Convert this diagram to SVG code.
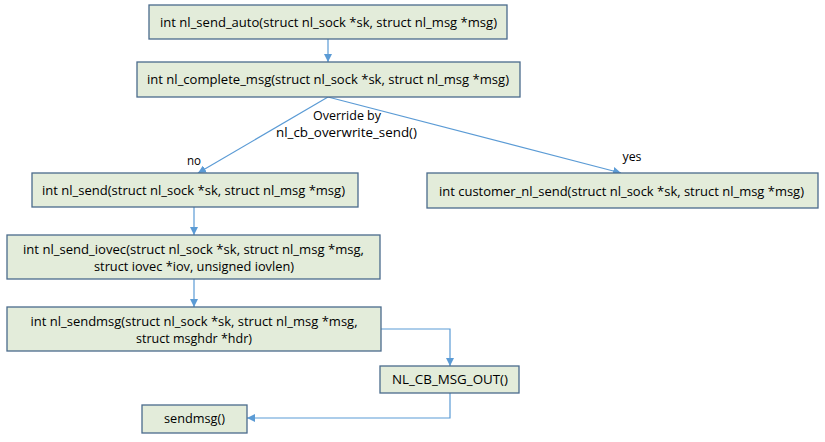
<svg xmlns="http://www.w3.org/2000/svg" width="825" height="442" viewBox="0 0 825 442">
  <style>
    .box { fill: #E3ECDA; stroke: #4A6B8C; stroke-width: 1.3; }
    .t { font-family: "Open Sans", "Liberation Sans", sans-serif; font-size: 13px; fill: #000; text-anchor: middle; }
    .c { fill: none; stroke: #5B9BD5; stroke-width: 1.2; }
  </style>
  <defs>
    <marker id="arr" viewBox="0 0 10 10" refX="10" refY="5" markerWidth="8" markerHeight="8" markerUnits="userSpaceOnUse" orient="auto">
      <path d="M0,0 L10,5 L0,10 z" fill="#5B9BD5"/>
    </marker>
  </defs>
  <rect width="825" height="442" fill="#FFFFFF"/>

  <g id="connectors">
    <line class="c" x1="328" y1="39" x2="328" y2="62" marker-end="url(#arr)"/>
    <line class="c" x1="328" y1="97" x2="198" y2="173" marker-end="url(#arr)"/>
    <line class="c" x1="328" y1="97" x2="621" y2="173" marker-end="url(#arr)"/>
    <line class="c" x1="194" y1="207" x2="194" y2="235" marker-end="url(#arr)"/>
    <line class="c" x1="194" y1="279" x2="194" y2="307" marker-end="url(#arr)"/>
    <polyline class="c" points="381,329 450,329 450,366" marker-end="url(#arr)"/>
    <polyline class="c" points="450,393 450,418 247,418" marker-end="url(#arr)"/>
    <text class="t" x="347" y="120" textLength="68" lengthAdjust="spacingAndGlyphs">Override by</text>
    <text class="t" x="346.5" y="137" textLength="141" lengthAdjust="spacingAndGlyphs">nl_cb_overwrite_send()</text>
    <text class="t" x="194" y="165" textLength="14" lengthAdjust="spacingAndGlyphs">no</text>
    <text class="t" x="632" y="161" textLength="19" lengthAdjust="spacingAndGlyphs">yes</text>
  </g>

  <g id="nl_send_auto">
    <rect class="box" x="149" y="5" width="358" height="34"/>
    <text class="t" x="328.5" y="27" textLength="337" lengthAdjust="spacingAndGlyphs">int nl_send_auto(struct nl_sock *sk, struct nl_msg *msg)</text>
  </g>

  <g id="nl_complete_msg">
    <rect class="box" x="137" y="62" width="383" height="35"/>
    <text class="t" x="328" y="84" textLength="362" lengthAdjust="spacingAndGlyphs">int nl_complete_msg(struct nl_sock *sk, struct nl_msg *msg)</text>
  </g>

  <g id="nl_send">
    <rect class="box" x="32" y="173" width="326" height="34"/>
    <text class="t" x="193.5" y="195" textLength="303" lengthAdjust="spacingAndGlyphs">int nl_send(struct nl_sock *sk, struct nl_msg *msg)</text>
  </g>

  <g id="customer_nl_send">
    <rect class="box" x="427" y="173" width="391" height="35"/>
    <text class="t" x="621.5" y="196" textLength="365" lengthAdjust="spacingAndGlyphs">int customer_nl_send(struct nl_sock *sk, struct nl_msg *msg)</text>
  </g>

  <g id="nl_send_iovec">
    <rect class="box" x="7" y="235" width="373" height="44"/>
    <text class="t" x="193.5" y="254" textLength="341" lengthAdjust="spacingAndGlyphs">int nl_send_iovec(struct nl_sock *sk, struct nl_msg *msg,</text>
    <text class="t" x="194" y="271" textLength="200" lengthAdjust="spacingAndGlyphs">struct iovec *iov, unsigned iovlen)</text>
  </g>

  <g id="nl_sendmsg">
    <rect class="box" x="7" y="307" width="374" height="44"/>
    <text class="t" x="194" y="326" textLength="327" lengthAdjust="spacingAndGlyphs">int nl_sendmsg(struct nl_sock *sk, struct nl_msg *msg,</text>
    <text class="t" x="194" y="343" textLength="116" lengthAdjust="spacingAndGlyphs">struct msghdr *hdr)</text>
  </g>

  <g id="nl_cb_msg_out">
    <rect class="box" x="380" y="366" width="139" height="27"/>
    <text class="t" x="450" y="384" textLength="116" lengthAdjust="spacingAndGlyphs">NL_CB_MSG_OUT()</text>
  </g>

  <g id="sendmsg">
    <rect class="box" x="142" y="405" width="105" height="28"/>
    <text class="t" x="194.5" y="423" textLength="61" lengthAdjust="spacingAndGlyphs">sendmsg()</text>
  </g>
</svg>
